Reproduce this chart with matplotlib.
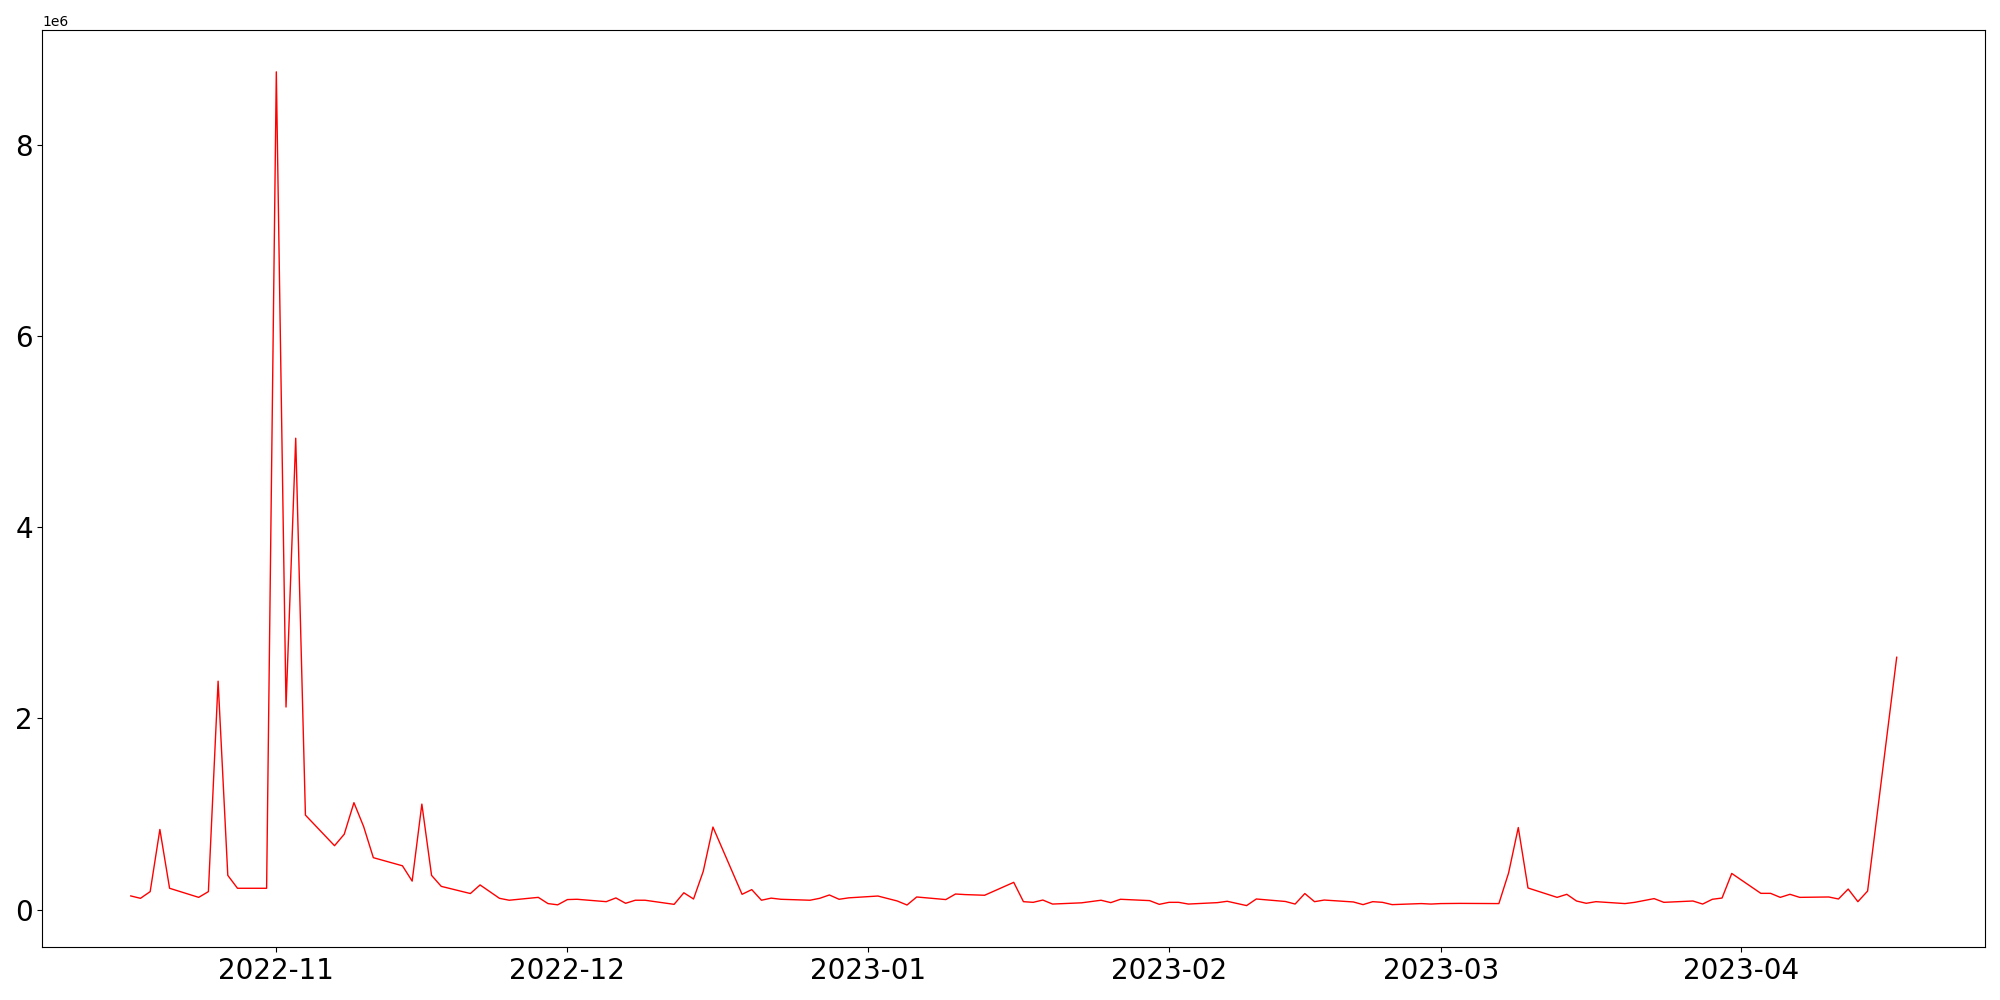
import pandas as pd
import matplotlib
matplotlib.use('Agg')
import matplotlib.pyplot as plt

# Trading days (weekdays) from 2022-10-17 to 2023-04-17
start_date = '2022-10-17'
end_date = '2023-04-17'

# Daily volume, in millions, one row per week (Mon..Fri)
volume_m = [
    0.145, 0.12, 0.19, 0.84, 0.225,
    0.13, 0.19, 2.39, 0.36, 0.225,
    0.225, 8.76, 2.12, 4.93, 0.99,
    0.67, 0.79, 1.12, 0.87, 0.545,
    0.46, 0.30, 1.105, 0.36, 0.245,
    0.17, 0.26, 0.19, 0.12, 0.10,
    0.13, 0.065, 0.052, 0.107, 0.11,
    0.085, 0.124, 0.068, 0.10, 0.10,
    0.057, 0.178, 0.113, 0.402, 0.865,
    0.162, 0.211, 0.10, 0.122, 0.11,
    0.10, 0.12, 0.155, 0.11, 0.125,
    0.144, 0.118, 0.092, 0.05, 0.134,
    0.107, 0.165, 0.159, 0.155, 0.152,
    0.287, 0.085, 0.078, 0.102, 0.06,
    0.073, 0.087, 0.10, 0.075, 0.11,
    0.096, 0.057, 0.078, 0.078, 0.06,
    0.075, 0.089, 0.066, 0.044, 0.113,
    0.087, 0.06, 0.17, 0.085, 0.102,
    0.082, 0.054, 0.085, 0.078, 0.054,
    0.065, 0.06, 0.065, 0.066, 0.067,
    0.066, 0.065, 0.385, 0.86, 0.228,
    0.13, 0.162, 0.092, 0.068, 0.085,
    0.065, 0.078, 0.098, 0.117, 0.078,
    0.092, 0.06, 0.11, 0.123, 0.38,
    0.172, 0.172, 0.13, 0.162, 0.13,
    0.134, 0.113, 0.217, 0.085, 0.196,
    2.64,
]

dates = pd.bdate_range(start_date, end_date)
assert len(dates) == len(volume_m)
volume = pd.Series([v * 1e6 for v in volume_m], index=dates)

plt.figure(figsize=(20, 10))
plt.plot(volume.index, volume.values, color='red', linewidth=1)
plt.xticks(fontsize=20)
plt.yticks(fontsize=20)
plt.tight_layout()

plt.savefig('out.png', dpi=100)
plt.close()
